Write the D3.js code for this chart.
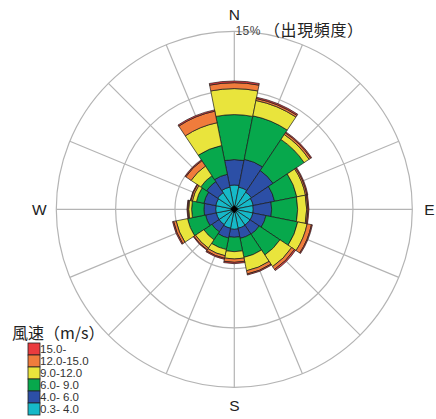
<!DOCTYPE html>
<html>
<head>
<meta charset="utf-8">
<script src="https://cdn.jsdelivr.net/npm/d3@7"></script>
<style>
  body { margin: 0; background: #fff; }
  svg { display: block; }
</style>
</head>
<body>
<div id="rose"></div>
<script>
const directions = ["N", "NNE", "NE", "ENE", "E", "ESE", "SE", "SSE", "S", "SSW", "SW", "WSW", "W", "WNW", "NW", "NNW"];
const speedKeys = ["s0", "s1", "s2", "s3", "s4", "s5"];
const speedLabels = ["0.3- 4.0", "4.0- 6.0", "6.0- 9.0", "9.0-12.0", "12.0-15.0", "15.0-"];
const speedColors = ["#16b9c8", "#2c4fa6", "#07a84c", "#e9e43c", "#f07c3c", "#ea3b3e"];

// frequency (%) by direction, one list per speed class
const freq0304 = [2.05, 1.91, 1.74, 1.63, 1.60, 1.60, 1.60, 1.63, 1.69, 1.63, 1.55, 1.55, 1.57, 1.60, 1.69, 1.91];
const freq0406 = [2.14, 2.39, 2.19, 1.83, 1.55, 1.12, 0.93, 0.87, 0.67, 0.84, 0.73, 0.92, 0.99, 1.01, 1.12, 1.10];
const freq0609 = [3.79, 3.73, 3.15, 1.91, 2.19, 2.73, 2.10, 1.63, 1.21, 0.99, 0.81, 1.55, 1.04, 0.65, 0.59, 2.47];
const freq0912 = [2.19, 1.32, 0.50, 0.75, 0.76, 0.81, 1.18, 1.15, 0.62, 0.53, 0.84, 0.98, 0.25, 0.34, 0.98, 1.96];
const freq1215 = [0.50, 0.17, 0.17, 0.12, 0.11, 0.37, 0.29, 0.28, 0.28, 0.22, 0.17, 0.22, 0.08, 0.14, 0.54, 0.99];
const freq15up = [0.14, 0.11, 0.09, 0.08, 0.08, 0.08, 0.11, 0.09, 0.11, 0.09, 0.06, 0.09, 0.06, 0.05, 0.08, 0.11];

const rings = [5, 10, 15];
const compass = [{ t: "N", a: 0 }, { t: "E", a: 90 }, { t: "S", a: 180 }, { t: "W", a: 270 }];

const width = 436, height = 419;
const cx = 234.3, cy = 209.3, R = 178;

const svg = d3.select("#rose")
    .append("svg")
    .attr("width", width)
    .attr("height", height);

const g = svg.append("g")
    .attr("transform", `translate(${cx}, ${cy})`);

const r = d3.scaleLinear().domain([0, 15]).range([0, R]);
const ang = d3.scaleBand().domain(directions).range([0, 2 * Math.PI]).align(0);
const color = d3.scaleOrdinal().domain(speedKeys).range(speedColors);

const series = [freq0304, freq0406, freq0609, freq0912, freq1215, freq15up];
const rows = directions.map((d, i) => {
    const row = { dir: d };
    speedKeys.forEach((k, j) => row[k] = series[j][i]);
    return row;
});
const stacked = d3.stack().keys(speedKeys)(rows);

// grid
g.selectAll(".ring")
    .data(rings)
    .join("circle")
    .attr("r", d => r(d))
    .attr("fill", "none")
    .attr("stroke", "#b4b4b4")
    .attr("stroke-width", 1.2);

g.selectAll(".spoke")
    .data(directions)
    .join("line")
    .attr("x1", 0).attr("y1", 0)
    .attr("x2", d => r(15) * Math.sin(ang(d)))
    .attr("y2", d => -r(15) * Math.cos(ang(d)))
    .attr("stroke", "#b4b4b4")
    .attr("stroke-width", 1.2);

// petals
const half = ang.bandwidth() / 2;
const arc = d3.arc()
    .innerRadius(d => r(d[0]))
    .outerRadius(d => r(d[1]))
    .startAngle(d => ang(d.data.dir) - half)
    .endAngle(d => ang(d.data.dir) + half);

g.selectAll(".layer")
    .data(stacked)
    .join("g")
    .attr("fill", d => color(d.key))
    .selectAll("path")
    .data(d => d)
    .join("path")
    .attr("d", arc)
    .attr("stroke", "#1a1a1a")
    .attr("stroke-width", 0.7)
    .attr("stroke-linejoin", "round");

// centre mark
g.append("path")
    .attr("d", d3.symbol(d3.symbolDiamond2, 40)())
    .attr("fill", "#000");

// compass letters
g.selectAll(".cmp")
    .data(compass)
    .join("text")
    .attr("x", d => (r(15) + 17) * Math.sin(d.a * Math.PI / 180))
    .attr("y", d => -(r(15) + 17) * Math.cos(d.a * Math.PI / 180) + (d.t == "S" ? 1 : 0))
    .attr("text-anchor", "middle")
    .attr("dominant-baseline", "central")
    .style("font-family", "'Liberation Sans', Arial, sans-serif")
    .style("font-size", "15.5px")
    .style("fill", "#222")
    .text(d => d.t);

// scale label
svg.append("text")
    .attr("x", 235.5)
    .attr("y", 34.5)
    .style("font-family", "'Liberation Sans', Arial, sans-serif")
    .style("font-size", "12px")
    .style("letter-spacing", "0.4px")
    .style("fill", "#444")
    .text("15%");
svg.append("text")
    .attr("x", 264)
    .attr("y", 35.5)
    .style("font-family", "'Noto Sans CJK JP', sans-serif")
    .style("font-size", "16px")
    .style("letter-spacing", "0.6px")
    .style("fill", "#222")
    .text("（出現頻度）");

// legend
svg.append("text")
    .attr("x", 12)
    .attr("y", 338.5)
    .style("font-family", "'Noto Sans CJK JP', sans-serif")
    .style("font-size", "16px")
    .style("fill", "#222")
    .text("風速（m/s）");

const legendKeys = speedKeys.slice().reverse();
const ly = d3.scaleBand().domain(legendKeys).range([343, 415]);

const legend = svg.append("g");
legend.selectAll("rect")
    .data(legendKeys)
    .join("rect")
    .attr("x", 28)
    .attr("y", d => ly(d))
    .attr("width", 12)
    .attr("height", ly.bandwidth())
    .attr("fill", d => color(d))
    .attr("stroke", "#222")
    .attr("stroke-width", 0.8);

legend.selectAll("text")
    .data(legendKeys)
    .join("text")
    .attr("x", 40)
    .attr("y", d => ly(d) + ly.bandwidth() / 2)
    .attr("dominant-baseline", "central")
    .style("font-family", "'Liberation Sans', Arial, sans-serif")
    .style("font-size", "11.5px")
    .style("fill", "#333")
    .text(d => speedLabels[speedKeys.indexOf(d)]);
</script>
</body>
</html>
